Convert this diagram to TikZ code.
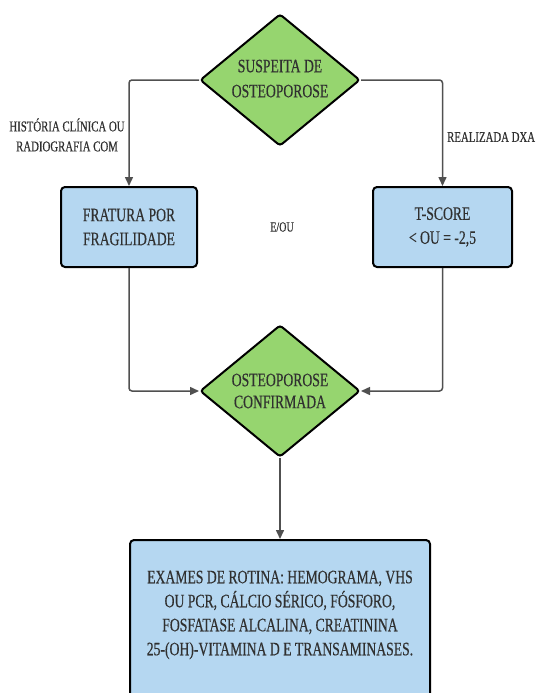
\documentclass[tikz,border=0pt]{standalone}
\usepackage{fontspec}
\setmainfont{Liberation Serif}[FakeStretch=0.72,FakeBold=0.4]
\usetikzlibrary{shapes.geometric,arrows.meta}
\definecolor{dgreen}{HTML}{96D56F}
\definecolor{lblue}{HTML}{B5D7F1}
\definecolor{txt}{HTML}{303030}
\definecolor{ln}{HTML}{505050}
\tikzset{
  decision/.style={diamond, draw=black, line width=2pt, fill=dgreen, rounded corners=3pt,
    minimum width=160pt, minimum height=132pt, inner sep=0pt, aspect=1.2,
    align=center, text=txt, font=\fontsize{19}{24}\selectfont},
  procbox/.style={rectangle, draw=black, line width=2pt, fill=lblue, rounded corners=4pt,
    align=center, text=txt, inner sep=0pt, font=\fontsize{19}{24}\selectfont},
  conn/.style={draw=ln, line width=1.5pt, rounded corners=3pt,
    -{Triangle[length=9pt,width=8pt]}},
  lbl/.style={align=center, text=txt, inner sep=0pt, font=\fontsize{15}{20}\selectfont}
}
\begin{document}
\begin{tikzpicture}[x=1pt,y=-1pt]
\useasboundingbox (0,0) rectangle (537,693);
\clip (0,0) rectangle (537,693);
\node[decision] (d1) at (280,80) {\raisebox{6pt}{\begin{tabular}{@{}c@{}}SUSPEITA DE\\[1pt]OSTEOPOROSE\end{tabular}}};
\node[procbox, minimum width=136pt, minimum height=80pt] (b1) at (129,227) {FRATURA POR\\FRAGILIDADE};
\node[procbox, minimum width=139pt, minimum height=80pt] (b2) at (442.5,227) {T-SCORE\\< OU = -2,5};
\node[decision, font=\fontsize{19}{22}\selectfont] (d2) at (280,391) {OSTEOPOROSE\\CONFIRMADA};
\node[procbox, minimum width=300pt, minimum height=170pt, anchor=north] (b3) at (280,539) {};
\node[procbox, draw=none, fill=none] (t3) at (280,615) {EXAMES DE ROTINA: HEMOGRAMA, VHS\\OU PCR, CÁLCIO SÉRICO, FÓSFORO,\\FOSFATASE ALCALINA, CREATININA\\25-(OH)-VITAMINA D E TRANSAMINASES.};
\node[lbl] (l1) at (67,135) {HISTÓRIA CLÍNICA OU\\RADIOGRAFIA COM};
\node[lbl, anchor=west] (l2) at (447,137) {REALIZADA DXA};
\node[lbl, font=\fontsize{14}{18}\selectfont] (l3) at (282,227) {E/OU};
\draw[conn] (d1.west) -| (b1.north);
\draw[conn] (d1.east) -| (b2.north);
\draw[conn] (b1.south) |- (d2.west);
\draw[conn] (b2.south) |- (d2.east);
\draw[conn] (d2.south) -- (b3.north);
\end{tikzpicture}
\end{document}
